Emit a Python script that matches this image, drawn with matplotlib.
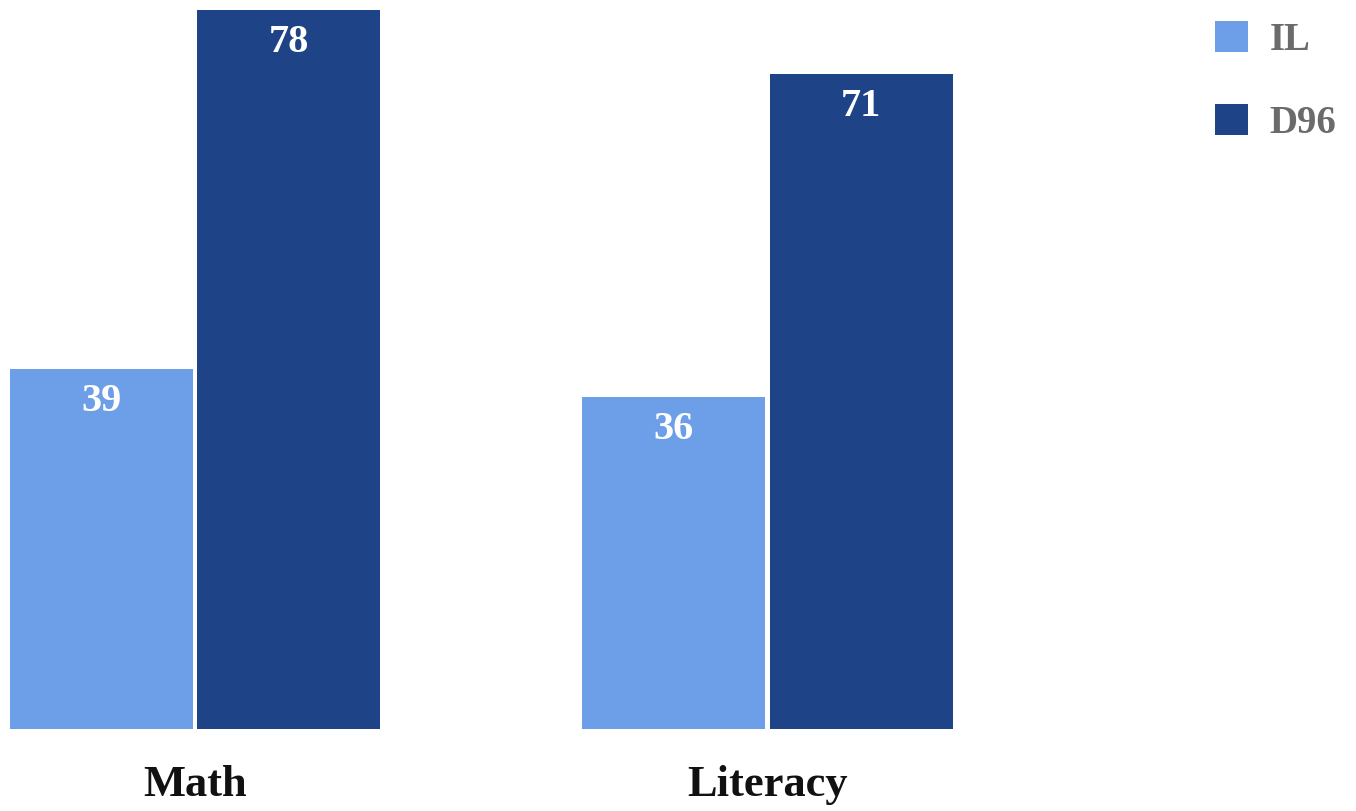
import matplotlib
matplotlib.use("Agg")
import matplotlib.pyplot as plt
import numpy as np

categories = ["Math", "Literacy"]
series = ["IL", "D96"]
il_values = [39, 36]
d96_values = [78, 71]
colors = ["#6D9EE8", "#1E4487"]

plt.rcParams["font.family"] = ["Liberation Serif", "DejaVu Serif"]

fig = plt.figure(figsize=(13.56, 8.11), dpi=100)
ax = fig.add_axes([0, 82 / 811, 1, 729 / 811])

x = np.arange(len(categories))
width = 0.32
offset = 0.1635

bars_il = ax.bar(x - offset, il_values, width, color=colors[0], label=series[0])
bars_d96 = ax.bar(x + offset, d96_values, width, color=colors[1], label=series[1])

for bars in (bars_il, bars_d96):
    for b in bars:
        v = b.get_height()
        ax.text(b.get_x() + b.get_width() / 2, v - 3.5, f"{v:.0f}",
                ha="center", va="center", color="white",
                fontsize=29, fontweight="bold")

ax.set_xlim(-195 / 572.5, (1356 - 195) / 572.5)
ax.set_ylim(0, 729 / 9.22)

for xi, cat in zip(x, categories):
    ax.text(xi, -6.1, cat, ha="center", va="center", fontsize=32,
            fontweight="bold", color="#111111")

ax.axis("off")

ax.legend(loc="upper left", bbox_to_anchor=(1194 / 1356, 1.0),
          bbox_transform=fig.transFigure, frameon=False,
          labelcolor="#6b6b6b", prop={"weight": "bold", "size": 28},
          handlelength=0.85, handleheight=0.85, handletextpad=0.55,
          labelspacing=1.15, borderaxespad=0.15)

fig.savefig("out.png", dpi=100)
